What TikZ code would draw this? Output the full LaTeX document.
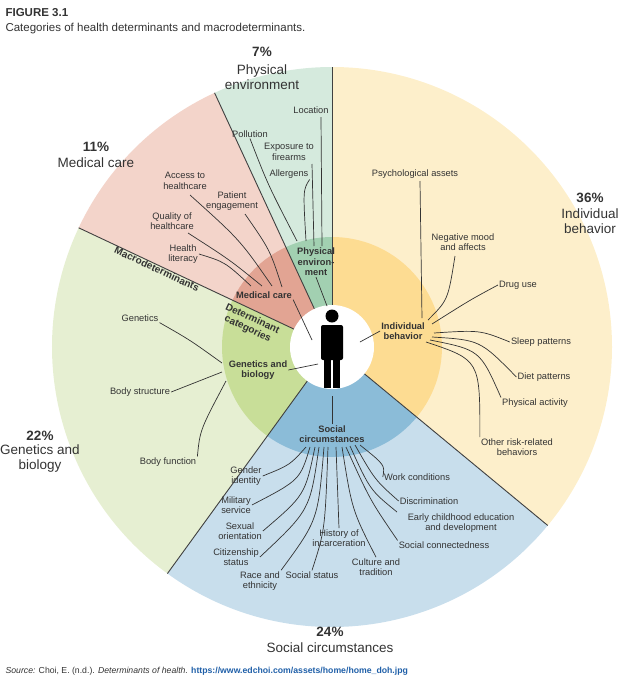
\documentclass[tikz,border=0pt]{standalone}
\usepackage{fontspec}
\setmainfont{Liberation Sans}
\definecolor{ibO}{HTML}{FDEFCB}\definecolor{ibI}{HTML}{FDDC92}
\definecolor{scO}{HTML}{C8DEEC}\definecolor{scI}{HTML}{8BBCD8}
\definecolor{gbO}{HTML}{E6EFD2}\definecolor{gbI}{HTML}{C8DE98}
\definecolor{mcO}{HTML}{F3D4CA}\definecolor{mcI}{HTML}{E2A493}
\definecolor{peO}{HTML}{D5EADD}\definecolor{peI}{HTML}{A2D0B1}
\definecolor{txt}{HTML}{333333}\definecolor{lnk}{HTML}{1F5FA8}
\begin{document}
\begin{tikzpicture}[x=1pt,y=-1pt,
 lab/.style={font=\fontsize{9.3}{10.5}\selectfont,text=txt,align=center,inner sep=1pt},
 cat/.style={font=\fontsize{9.3}{10.5}\selectfont\bfseries,text=txt,align=center,inner sep=1pt},
 big/.style={font=\fontsize{13.5}{15}\selectfont,text=txt,align=center,inner sep=0pt},
 ln/.style={draw=txt,line width=0.7pt},
 sep/.style={draw=black!75,line width=0.9pt}]
\useasboundingbox (0,0) rectangle (624,686);
\coordinate (C) at (332,347);
% outer sectors
\fill[ibO] (C) -- ++(-90:280) arc[start angle=-90,end angle=39.6,radius=280] -- cycle;
\fill[scO] (C) -- ++(39.6:280) arc[start angle=39.6,end angle=126,radius=280] -- cycle;
\fill[gbO] (C) -- ++(126:280) arc[start angle=126,end angle=205.2,radius=280] -- cycle;
\fill[mcO] (C) -- ++(205.2:280) arc[start angle=205.2,end angle=245.2,radius=280] -- cycle;
\fill[peO] (C) -- ++(245.2:280) arc[start angle=245.2,end angle=270,radius=280] -- cycle;
% inner sectors
\fill[ibI] (C) -- ++(-90:110) arc[start angle=-90,end angle=39.6,radius=110] -- cycle;
\fill[scI] (C) -- ++(39.6:110) arc[start angle=39.6,end angle=126,radius=110] -- cycle;
\fill[gbI] (C) -- ++(126:110) arc[start angle=126,end angle=205.2,radius=110] -- cycle;
\fill[mcI] (C) -- ++(205.2:110) arc[start angle=205.2,end angle=245.2,radius=110] -- cycle;
\fill[peI] (C) -- ++(245.2:110) arc[start angle=245.2,end angle=270,radius=110] -- cycle;
\foreach \a in {-90,39.6,126,205.2,245.2} \draw[sep] (C) -- ++(\a:280);
\fill[white] (C) circle (42);
% person
\fill[black] (332,316) circle (6.5);
\fill[black,rounded corners=2pt] (321,325) rectangle (343,360);
\fill[black] (324,355) rectangle (331,388);
\fill[black] (333,355) rectangle (340,388);
\node[inner sep=0] (person) at (332,352) {};
% header
\node[anchor=west,font=\fontsize{11.5}{13}\selectfont\bfseries,text=txt] (fig) at (2,13) {FIGURE 3.1};
\node[anchor=west,font=\fontsize{11.5}{13}\selectfont,text=txt] (cap) at (2,29) {Categories of health determinants and macrodeterminants.};
\node[anchor=west,font=\fontsize{8.7}{10}\selectfont,text=txt] (src) at (2,671) {\textit{Source:} Choi, E. (n.d.). \textit{Determinants of health.} \textcolor{lnk}{\bfseries https://www.edchoi.com/assets/home/home\_doh.jpg}};
% big labels
\node[big] (p7) at (262,52) {\bfseries 7\%};
\node[big] (p7t) at (262,77) {Physical\\environment};
\node[big] (p11) at (96,147) {\bfseries 11\%};
\node[big] (p11t) at (96,163) {Medical care};
\node[big] (p36) at (590,198) {\bfseries 36\%};
\node[big] (p36t) at (590,221) {Individual\\behavior};
\node[big] (p22) at (40,436) {\bfseries 22\%};
\node[big] (p22t) at (40,459) {Genetics and\\biology};
\node[big] (p24) at (330,632) {\bfseries 24\%};
\node[big] (p24t) at (330,648) {Social circumstances};
\node[font=\fontsize{10}{11}\selectfont\bfseries,text=txt,rotate=-25,inner sep=0] (macro) at (157,269) {Macrodeterminants};
\node[font=\fontsize{10}{11}\selectfont\bfseries,text=txt,align=center,rotate=-25,inner sep=0] (detcat) at (250,324) {Determinant\\categories};
% categories
\node[cat] (pe) at (316,262) {Physical\\environ-\\ment};
\node[cat] (mc) at (264,295) {Medical care};
\node[cat] (ib) at (403,331) {Individual\\behavior};
\node[cat] (gb) at (258,370) {Genetics and\\biology};
\node[cat] (sc) at (332,434) {Social\\circumstances};
\draw[ln] (pe.south) -- (327,306);
\draw[ln] (mc.south east) -- (312,340);
\draw[ln] (ib.west) -- (360,342);
\draw[ln] (gb.east) -- (318,364);
\draw[ln] (sc.north) -- (332,396);
% physical env
\node[lab] (loc) at (311,110) {Location};
\node[lab] (pol) at (250,134) {Pollution};
\node[lab] (exp) at (289,152) {Exposure to\\firearms};
\node[lab] (all) at (289,174) {Allergens};
\draw[ln] (321,117) -- (322,246);
\draw[ln] (312,164) -- (314,246);
\draw[ln] (all.south east) .. controls (303,190) .. (306,241);
\draw[ln] (pol.south) .. controls (268,185) .. (297,241);
% medical care
\node[lab] (acc) at (185,181) {Access to\\healthcare};
\node[lab] (pat) at (232,201) {Patient\\engagement};
\node[lab] (qua) at (172,221) {Quality of\\healthcare};
\node[lab] (hea) at (183,254) {Health\\literacy};
\draw[ln] (190,195) .. controls (240,240) .. (272,286);
\draw[ln] (245,214) .. controls (270,250) .. (282,287);
\draw[ln] (188,233) .. controls (230,260) .. (262,286);
\draw[ln] (hea.east) .. controls (225,262) .. (251,286);
% individual behavior
\node[lab] (psy) at (415,174) {Psychological assets};
\node[lab] (neg) at (463,242) {Negative mood\\and affects};
\node[lab] (dru) at (518,285) {Drug use};
\node[lab] (sle) at (541,342) {Sleep patterns};
\node[lab] (die) at (544,377) {Diet patterns};
\node[lab] (phy) at (535,403) {Physical activity};
\node[lab] (oth) at (517,447) {Other risk-related\\behaviors};
\draw[ln] (420,181) -- (422,318);
\draw[ln] (455,256) .. controls (448,300) .. (428,320);
\draw[ln] (dru.west) .. controls (470,300) .. (432,324);
\draw[ln] (sle.west) .. controls (480,330) .. (434,333);
\draw[ln] (die.west) .. controls (480,340) .. (432,337);
\draw[ln] (phy.north west) .. controls (480,350) .. (430,340);
\draw[ln] (oth.north west) .. controls (480,360) .. (426,342);
% genetics
\node[lab] (gen) at (140,318) {Genetics};
\node[lab] (bst) at (140,392) {Body structure};
\node[lab] (bfu) at (168,462) {Body function};
\draw[ln] (gen.south east) .. controls (190,340) .. (222,363);
\draw[ln] (bst.east) -- (222,372);
\draw[ln] (bfu.north east) .. controls (200,430) .. (226,381);
% social
\node[lab] (s1) at (246,476) {Gender\\identity};
\node[lab] (s2) at (236,505) {Military\\service};
\node[lab] (s3) at (240,531) {Sexual\\orientation};
\node[lab] (s4) at (236,557) {Citizenship\\status};
\node[lab] (s5) at (260,581) {Race and\\ethnicity};
\node[lab] (s6) at (312,575) {Social status};
\node[lab] (s7) at (339,538) {History of\\incarceration};
\node[lab] (s8) at (376,567) {Culture and\\tradition};
\node[lab] (s9) at (444,545) {Social connectedness};
\node[lab] (s10) at (461,523) {Early childhood education\\and development};
\node[lab] (s11) at (429,501) {Discrimination};
\node[lab] (s12) at (417,477) {Work conditions};
\draw[ln] (s1.east) .. controls (290,465) .. (306,447);
\draw[ln] (s2.east) .. controls (300,480) .. (310,447);
\draw[ln] (s3.east) .. controls (305,495) .. (315,447);
\draw[ln] (s4.east) .. controls (310,510) .. (319,447);
\draw[ln] (s5.north east) .. controls (318,520) .. (324,447);
\draw[ln] (s6.north) .. controls (325,530) .. (328,447);
\draw[ln] (s7.north) -- (336,447);
\draw[ln] (s8.north) .. controls (352,510) .. (342,447);
\draw[ln] (s9.north west) .. controls (370,500) .. (346,447);
\draw[ln] (397,512) .. controls (370,490) .. (350,446);
\draw[ln] (s11.west) .. controls (375,480) .. (355,445);
\draw[ln] (s12.west) .. controls (385,465) .. (360,445);
\end{tikzpicture}
\end{document}
